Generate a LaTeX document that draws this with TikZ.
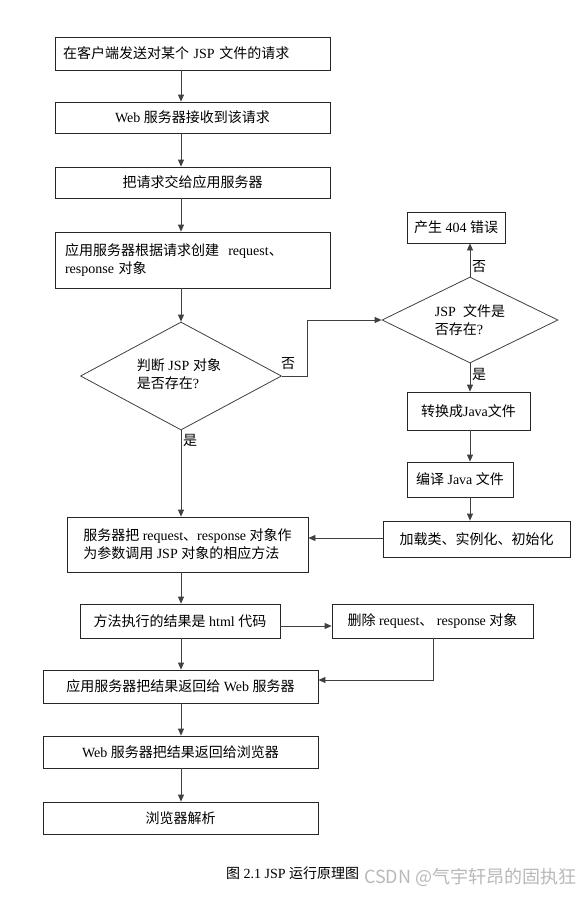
\documentclass[tikz,border=0pt]{standalone}
\usepackage{fontspec}
\setmainfont{Liberation Serif}
\newfontfamily\zhfont{Noto Sans CJK SC}
\newcommand{\zh}[1]{{\zhfont #1}}
\usetikzlibrary{shapes.geometric,arrows.meta}
\begin{document}
\begin{tikzpicture}[x=1pt,y=-1pt,
  font=\fontsize{14}{18}\selectfont,
  box/.style={draw=black!85, line width=0.8pt, inner sep=2pt, align=center},
  dia/.style={draw=black!75, line width=0.8pt, diamond, inner sep=0pt},
  conn/.style={draw=black!75, line width=0.8pt, -{Triangle[length=7pt,width=6pt]}},
  lab/.style={inner sep=0pt, anchor=west}]
\useasboundingbox (0,0) rectangle (586,897);
\fill[white] (0,0) rectangle (586,897);
\coordinate (sp) at (181,0);
% left column
\node[box, align=left, text width=259pt, inner xsep=8pt, minimum height=33pt] (b1) at (192.5,53.5) {\zh{在客户端发送对某个} JSP \zh{文件的请求}};
\node[box, minimum width=275pt, minimum height=31pt] (b2) at (192.5,117.5) {Web \zh{服务器接收到该请求}};
\node[box, minimum width=275pt, minimum height=31pt] (b3) at (192.5,182.5) {\zh{把请求交给应用服务器}};
\node[box, align=left, text width=255pt, inner xsep=10pt, minimum height=56pt] (b4) at (192.5,260) {\zh{应用服务器根据请求创建}\ \ request\zh{、}\\response \zh{对象}};
\node[dia, minimum width=201pt, minimum height=108pt] (d1) at (181,376) {};
\node[align=left, inner sep=0pt] (d1t) at (179,374) {\zh{判断} JSP \zh{对象}\\\zh{是否存在}?};
\node[box, minimum width=241pt, minimum height=55pt, align=left] (b5) at (187.5,544.5) {\zh{服务器把} request\zh{、}response \zh{对象作}\\\zh{为参数调用} JSP \zh{对象的相应方法}};
\node[box, minimum width=200pt, minimum height=34pt] (b6) at (180,621) {\zh{方法执行的结果是} html \zh{代码}};
\node[box, minimum width=275pt, minimum height=33pt] (b7) at (180.5,686.5) {\zh{应用服务器把结果返回给} Web \zh{服务器}};
\node[box, minimum width=275pt, minimum height=32pt] (b8) at (180.5,752) {Web \zh{服务器把结果返回给浏览器}};
\node[box, minimum width=275pt, minimum height=32pt] (b9) at (180.5,818) {\zh{浏览器解析}};
% right column
\node[dia, minimum width=176pt, minimum height=86pt] (d2) at (470,320) {};
\node[align=left, inner sep=0pt] (d2t) at (470,320) {JSP\ \ \zh{文件是}\\\zh{否存在}?};
\node[box, minimum width=98pt, minimum height=31pt] (b404) at (456,227.5) {\zh{产生} 404 \zh{错误}};
\node[box, minimum width=123pt, minimum height=38pt] (bjava) at (468.5,411) {\zh{转换成}Java\zh{文件}};
\node[box, minimum width=106pt, minimum height=35pt] (bcomp) at (460,479.5) {\zh{编译} Java \zh{文件}};
\node[box, minimum width=187pt, minimum height=36pt] (bload) at (476.5,539) {\zh{加载类、实例化、初始化}};
\node[box, minimum width=201pt, minimum height=34pt] (bdel) at (432.5,621) {\zh{删除} request\zh{、} response \zh{对象}};
% helper coordinates
\coordinate (k1) at (307,0);
\coordinate (y1) at (0,538);
\coordinate (y2) at (0,626);
\coordinate (k2) at (433,680);
% connectors
\draw[conn] (b1.south -| sp) -- (b2.north -| sp);
\draw[conn] (b2.south -| sp) -- (b3.north -| sp);
\draw[conn] (b3.south -| sp) -- (b4.north -| sp);
\draw[conn] (b4.south -| d1.north) -- (d1.north);
\draw[conn] (d1.east) -- (d1.east -| k1) |- (d2.west);
\draw[conn] (d1.south) -- (b5.north -| d1.south);
\draw[conn] (d2.north) -- (b404.south -| d2.north);
\draw[conn] (d2.south) -- (bjava.north -| d2.south);
\draw[conn] (bjava.south -| d2.south) -- (bcomp.north -| d2.south);
\draw[conn] (bcomp.south -| d2.south) -- (bload.north -| d2.south);
\draw[conn] (bload.west |- y1) -- (b5.east |- y1);
\draw[conn] (b5.south -| sp) -- (b6.north -| sp);
\draw[conn] (b6.east |- y2) -- (bdel.west |- y2);
\draw[conn] (bdel.south -| k2) |- (b7.east |- k2);
\draw[conn] (b6.south -| sp) -- (b7.north -| sp);
\draw[conn] (b7.south -| sp) -- (b8.north -| sp);
\draw[conn] (b8.south -| sp) -- (b9.north -| sp);
% labels
\node[lab] (l1) at (281,364) {\zh{否}};
\node[lab] (l2) at (183,440) {\zh{是}};
\node[lab] (l3) at (472,267) {\zh{否}};
\node[lab] (l4) at (472,374) {\zh{是}};
% caption and watermark
\node[anchor=west, inner sep=0pt] (cap) at (226,873) {\zh{图} 2.1 JSP \zh{运行原理图}};
\node[anchor=west, inner sep=0pt, text=gray!55, font=\zhfont\fontsize{18}{20}\selectfont] (wm) at (364,877) {CSDN @气宇轩昂的固执狂};
\end{tikzpicture}
\end{document}
